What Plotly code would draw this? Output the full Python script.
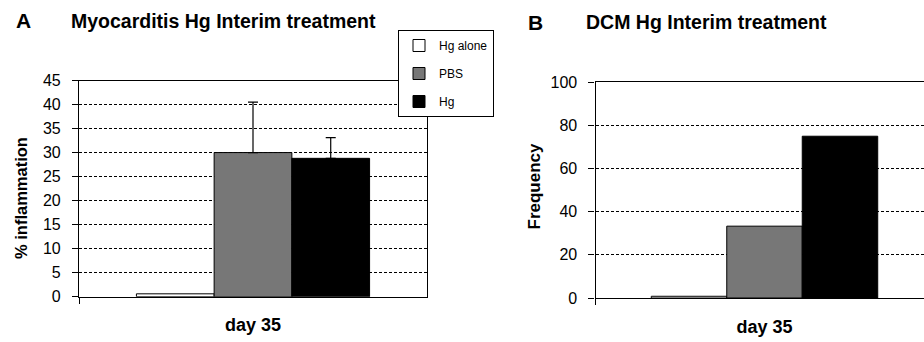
import plotly.graph_objects as go

W, H = 924, 342

categories = ["day 35"]
groups = ["Hg alone", "PBS", "Hg"]
colors = ["#ffffff", "#777777", "#000000"]

# Panel A: Myocarditis (% inflammation)
inflammation = [0.6, 30.0, 28.8]
inflammation_err = [0.0, 10.5, 4.3]

# Panel B: DCM frequency
frequency = [0.8, 33.3, 75.0]

A_yticks = [0, 5, 10, 15, 20, 25, 30, 35, 40, 45]
B_yticks = [0, 20, 40, 60, 80, 100]

FONT = "Liberation Sans, Arial, sans-serif"


def px_x(x):
    return x / W


def px_y(y):
    return 1 - y / H


fig = go.Figure()

for i, g in enumerate(groups):
    fig.add_trace(go.Bar(
        x=categories, y=[inflammation[i]], name=g,
        marker=dict(color=colors[i], line=dict(color="black", width=1)),
        error_y=dict(type="data", symmetric=False, array=[inflammation_err[i]],
                     arrayminus=[0], color="black", thickness=1.2, width=5,
                     visible=inflammation_err[i] > 0),
        xaxis="x", yaxis="y", legendgroup=g, showlegend=True,
    ))

for i, g in enumerate(groups):
    fig.add_trace(go.Bar(
        x=categories, y=[frequency[i]], name=g,
        marker=dict(color=colors[i], line=dict(color="black", width=1)),
        xaxis="x2", yaxis="y2", legendgroup=g, showlegend=False,
    ))

axis_common = dict(
    showline=True, linecolor="black", linewidth=1.2,
    ticks="outside", ticklen=6, tickcolor="black", tickwidth=1,
    zeroline=False, automargin=False,
)

xfont = dict(size=18, family=FONT, weight="bold")
yfont = dict(size=16, family=FONT)

fig.update_layout(
    width=W, height=H,
    margin=dict(l=0, r=0, t=0, b=0),
    paper_bgcolor="white", plot_bgcolor="white",
    barmode="group", bargap=0.33, bargroupgap=0,
    font=dict(family=FONT, color="black"),
    xaxis=dict(domain=[px_x(79), px_x(427)], type="category",
               range=[-0.5, 0.5], tickson="boundaries", mirror=True,
               showgrid=False, tickfont=xfont,
               ticklabelstandoff=12, anchor="y", **axis_common),
    yaxis=dict(domain=[px_y(296.7), px_y(80.5)], range=[0, 45],
               tickvals=A_yticks, mirror=True, showgrid=True,
               gridcolor="black", gridwidth=1, griddash="3px,2px",
               tickfont=yfont,
               ticklabelstandoff=8, anchor="x", **axis_common),
    xaxis2=dict(domain=[px_x(595.5), 1.0], type="category",
                range=[-0.5, -0.5 + (924 - 595.5) / 338], tickson="boundaries",
                mirror=True, showgrid=False,
                tickfont=xfont,
                ticklabelstandoff=12, anchor="y2", **axis_common),
    yaxis2=dict(domain=[px_y(298), px_y(82.3)], range=[0, 100],
                tickvals=B_yticks, mirror=False, showgrid=True,
                gridcolor="black", gridwidth=1, griddash="3px,2px",
                tickfont=yfont,
                ticklabelstandoff=8, anchor="x2", **axis_common),
    showlegend=True,
    legend=dict(x=px_x(398), y=px_y(30), xanchor="left", yanchor="top",
                bgcolor="white", bordercolor="black", borderwidth=1,
                font=dict(size=12, family=FONT), tracegroupgap=9,
                traceorder="grouped", itemwidth=30),
)

ann = [
    dict(text="<b>A</b>", x=px_x(23), y=px_y(21), xanchor="center", yanchor="middle", size=21),
    dict(text="<b>Myocarditis Hg Interim treatment</b>", x=px_x(69), y=px_y(21), xanchor="left", yanchor="middle", size=19.5),
    dict(text="<b>B</b>", x=px_x(535), y=px_y(22), xanchor="center", yanchor="middle", size=21),
    dict(text="<b>DCM Hg Interim treatment</b>", x=px_x(584), y=px_y(22), xanchor="left", yanchor="middle", size=19.5),
]
for a in ann:
    fig.add_annotation(text=a["text"], x=a["x"], y=a["y"], xref="paper", yref="paper",
                       xanchor=a["xanchor"], yanchor=a["yanchor"], showarrow=False,
                       font=dict(size=a["size"], family=FONT, color="black"))

fig.add_annotation(text="<b>% inflammation</b>", x=px_x(21.5), y=px_y(198.5), xref="paper", yref="paper",
                   textangle=-90, showarrow=False, xanchor="center", yanchor="middle",
                   font=dict(size=16.5, family=FONT, color="black"))
fig.add_annotation(text="<b>Frequency</b>", x=px_x(534), y=px_y(186.5), xref="paper", yref="paper",
                   textangle=-90, showarrow=False, xanchor="center", yanchor="middle",
                   font=dict(size=17, family=FONT, color="black"))

fig.write_html("out.html")
